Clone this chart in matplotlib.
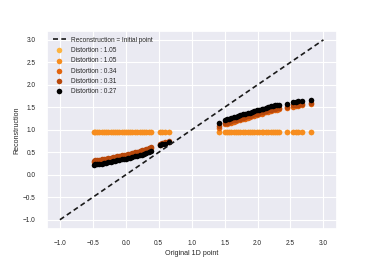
import matplotlib
matplotlib.use("Agg")
import matplotlib.pyplot as plt
import seaborn as sns

# Original 1D points
x_points = [
    -0.49, -0.46, -0.43, -0.40, -0.36, -0.33, -0.30, -0.27, -0.23, -0.20,
    -0.16, -0.13, -0.10, -0.06, -0.03, 0.00, 0.04, 0.07, 0.10, 0.14,
    0.17, 0.21, 0.24, 0.28, 0.31, 0.35, 0.38,
    0.52, 0.55, 0.59, 0.65,
    1.41, 1.50, 1.53, 1.57, 1.60, 1.64, 1.67, 1.71, 1.74, 1.78,
    1.81, 1.85, 1.88, 1.92, 1.95, 1.99, 2.02, 2.06, 2.09, 2.13,
    2.16, 2.20, 2.23, 2.27, 2.30, 2.32,
    2.45, 2.54, 2.58, 2.62, 2.68, 2.81,
]

# Reconstructions, distortion 1.05 (both runs collapse to the same value)
recon_105 = [
    0.95, 0.95, 0.95, 0.95, 0.95, 0.95, 0.95, 0.95, 0.95, 0.95,
    0.95, 0.95, 0.95, 0.95, 0.95, 0.95, 0.95, 0.95, 0.95, 0.95,
    0.95, 0.95, 0.95, 0.95, 0.95, 0.95, 0.95,
    0.95, 0.95, 0.95, 0.95,
    0.95, 0.95, 0.95, 0.95, 0.95, 0.95, 0.95, 0.95, 0.95, 0.95,
    0.95, 0.95, 0.95, 0.95, 0.95, 0.95, 0.95, 0.95, 0.95, 0.95,
    0.95, 0.95, 0.95, 0.95, 0.95, 0.95,
    0.95, 0.95, 0.95, 0.95, 0.95, 0.95,
]

recon_034 = [
    0.29, 0.30, 0.31, 0.315, 0.32, 0.33, 0.34, 0.35, 0.36, 0.37,
    0.38, 0.39, 0.40, 0.41, 0.42, 0.43, 0.44, 0.45, 0.46, 0.48,
    0.49, 0.50, 0.52, 0.53, 0.55, 0.57, 0.59,
    0.67, 0.69, 0.70, 0.73,
    1.05, 1.12, 1.13, 1.15, 1.16, 1.18, 1.19, 1.21, 1.22, 1.24,
    1.25, 1.27, 1.28, 1.30, 1.31, 1.33, 1.34, 1.36, 1.37, 1.39,
    1.40, 1.42, 1.43, 1.44, 1.45, 1.46,
    1.48, 1.51, 1.52, 1.53, 1.54, 1.57,
]

recon_031 = [
    0.31, 0.32, 0.33, 0.335, 0.34, 0.35, 0.36, 0.37, 0.38, 0.39,
    0.40, 0.41, 0.42, 0.43, 0.44, 0.45, 0.46, 0.47, 0.48, 0.50,
    0.51, 0.52, 0.54, 0.55, 0.57, 0.59, 0.61,
    0.69, 0.71, 0.72, 0.75,
    1.08, 1.15, 1.16, 1.18, 1.19, 1.21, 1.22, 1.24, 1.25, 1.27,
    1.28, 1.30, 1.31, 1.33, 1.34, 1.36, 1.37, 1.39, 1.40, 1.42,
    1.43, 1.45, 1.46, 1.47, 1.48, 1.49,
    1.51, 1.54, 1.55, 1.56, 1.57, 1.60,
]

recon_027 = [
    0.22, 0.23, 0.24, 0.245, 0.25, 0.26, 0.27, 0.28, 0.29, 0.30,
    0.31, 0.32, 0.33, 0.34, 0.35, 0.36, 0.37, 0.38, 0.39, 0.41,
    0.42, 0.43, 0.45, 0.46, 0.48, 0.50, 0.52,
    0.66, 0.68, 0.69, 0.72,
    1.15, 1.22, 1.23, 1.25, 1.26, 1.28, 1.29, 1.31, 1.32, 1.34,
    1.35, 1.37, 1.38, 1.40, 1.41, 1.43, 1.44, 1.46, 1.47, 1.49,
    1.50, 1.52, 1.53, 1.54, 1.55, 1.56,
    1.58, 1.61, 1.62, 1.63, 1.64, 1.67,
]

series = [
    ("Distortion : 1.05", recon_105, "#fdb441"),
    ("Distortion : 1.05", recon_105, "#f78d1f"),
    ("Distortion : 0.34", recon_034, "#e2650f"),
    ("Distortion : 0.31", recon_031, "#b8480b"),
    ("Distortion : 0.27", recon_027, "#000000"),
]

identity_line = [-1.0, 3.0]

sns.set_theme(style="darkgrid", context="notebook", font_scale=0.43)
plt.rcParams["font.family"] = ["Liberation Sans", "DejaVu Sans"]

fig, ax = plt.subplots(figsize=(3.74, 2.57), dpi=100)

ax.plot(identity_line, identity_line, "k--", linewidth=1.2,
        dashes=(3, 2), label="Reconstruction = Initial point")

for label, recon, color in series:
    ax.scatter(x_points, recon, color=color, s=16, label=label,
               linewidths=0)

ax.grid(linewidth=0.8)
ax.set_xlabel("Original 1D point", labelpad=2)
ax.set_ylabel("Reconstruction", labelpad=2)
ax.tick_params(pad=2)
ax.legend(loc="upper left", frameon=False)

fig.savefig("out.png", dpi=100)
